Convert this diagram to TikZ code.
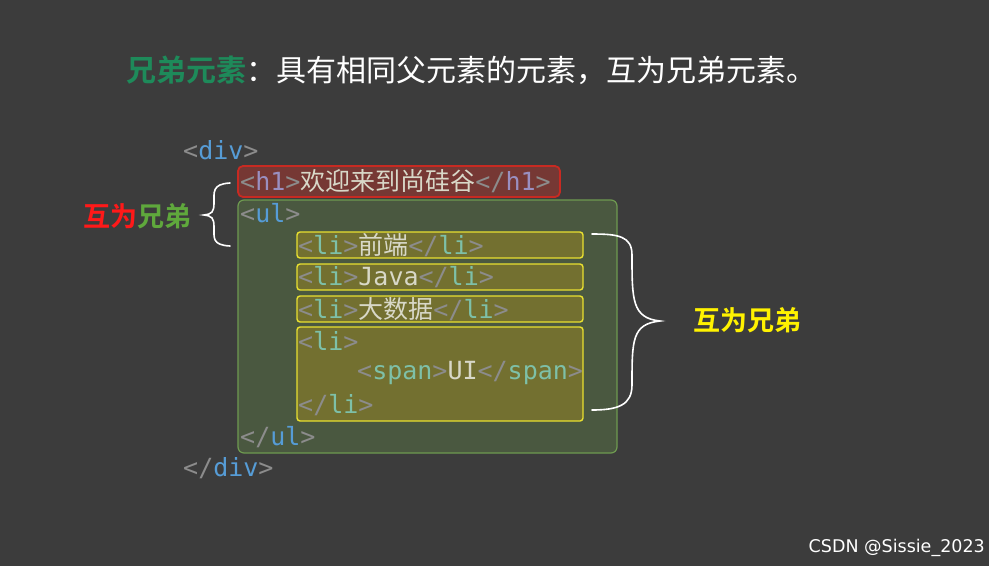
\documentclass[tikz,border=0pt]{standalone}
\usepackage{fontspec}
\setmonofont{DejaVu Sans Mono}
\newfontfamily\cjk{Noto Sans CJK SC}
\newfontfamily\cjkb{Noto Sans CJK SC Bold}
\definecolor{bg}{HTML}{3C3C3C}
\definecolor{brk}{HTML}{8C8C8C}
\definecolor{tagb}{HTML}{569CD6}
\definecolor{tagt}{HTML}{7EC0A8}
\definecolor{tagp}{HTML}{9A8FC0}
\definecolor{txt}{HTML}{D8D8C8}
\definecolor{grn}{HTML}{5FA83C}
\definecolor{ttlg}{HTML}{1E8A5A}
\definecolor{ulfill}{HTML}{4A5840}
\definecolor{ulline}{HTML}{6E9A50}
\definecolor{lifill}{HTML}{737030}
\definecolor{liline}{HTML}{E8E030}
\definecolor{h1fill}{HTML}{763834}
\definecolor{h1line}{HTML}{C82A22}
\begin{document}
\begin{tikzpicture}[x=1pt,y=-1pt,
  code/.style={anchor=west,inner sep=0pt,font=\ttfamily\fontsize{25}{25}\selectfont,text=txt},
  lbl/.style={anchor=west,inner sep=0pt,font=\cjkb\fontsize{27}{27}\selectfont},
  brace/.style={draw=white,line width=1.6pt,line cap=round}]
\fill[bg] (0,0) rectangle (989,566);
\useasboundingbox (0,0) rectangle (989,566);
\newcommand{\B}[1]{\textcolor{brk}{#1}}
% boxes
\draw[draw=ulline,fill=ulfill,line width=1.2pt,rounded corners=6pt] (238,200) rectangle (617,453);
\draw[draw=h1line,fill=h1fill,line width=1.8pt,rounded corners=5pt] (238,166) rectangle (560,197);
\foreach \a/\b in {232/258,264/290,296/322,327/421}
  \draw[draw=liline,fill=lifill,line width=1.4pt,rounded corners=3pt] (297,\a) rectangle (583,\b);
% title
\node[lbl,font=\cjkb\fontsize{30}{30}\selectfont,text=ttlg] (t1) at (126,70) {兄弟元素};
\node[anchor=west,inner sep=0pt,font=\cjk\fontsize{30}{30}\selectfont,text=white] (t2) at (t1.east) {：具有相同父元素的元素，互为兄弟元素。};
% code
\node[code] (l1) at (183,150) {\B{<}\textcolor{tagb}{div}\B{>}};
\node[code] (l2) at (240,181) {\B{<}\textcolor{tagp}{h1}\B{>}{\cjk 欢迎来到尚硅谷}\B{</}\textcolor{tagp}{h1}\B{>}};
\node[code] (l3) at (240,213) {\B{<}\textcolor{tagb}{ul}\B{>}};
\node[code] (l4) at (298,245) {\B{<}\textcolor{tagt}{li}\B{>}{\cjk 前端}\B{</}\textcolor{tagt}{li}\B{>}};
\node[code] (l5) at (298,277) {\B{<}\textcolor{tagt}{li}\B{>}Java\B{</}\textcolor{tagt}{li}\B{>}};
\node[code] (l6) at (298,309) {\B{<}\textcolor{tagt}{li}\B{>}{\cjk 大数据}\B{</}\textcolor{tagt}{li}\B{>}};
\node[code] (l7) at (298,341) {\B{<}\textcolor{tagt}{li}\B{>}};
\node[code] (l8) at (357,373) {\B{<}\textcolor{tagt}{span}\B{>}UI\B{</}\textcolor{tagt}{span}\B{>}};
\node[code] (l9) at (298,405) {\B{</}\textcolor{tagt}{li}\B{>}};
\node[code] (l10) at (240,437) {\B{</}\textcolor{tagb}{ul}\B{>}};
\node[code] (l11) at (183,468) {\B{</}\textcolor{tagb}{div}\B{>}};
% left brace
\coordinate (lb1) at (230,183);
\coordinate (lb2) at (230,246);
\draw[brace] (lb1) .. controls (212,184) and (214,192) .. (214,203)
  .. controls (214,212) and (212,214) .. (204,215)
  .. controls (212,216) and (214,218) .. (214,227)
  .. controls (214,238) and (212,245) .. (lb2);
\node[lbl,text=red!90!white] (lf1) at (83,216) {互为};
\node[lbl,text=grn] (lf2) at (lf1.east) {兄弟};
% right brace
\coordinate (rb1) at (592,234);
\coordinate (rb2) at (592,410);
\draw[brace] (rb1) .. controls (618,234) and (632,236) .. (632,255)
  .. controls (632,300) and (632,318) .. (660,321)
  .. controls (632,324) and (632,340) .. (632,385)
  .. controls (632,405) and (618,410) .. (rb2);
\node[lbl,text=yellow] (rl) at (693,320) {互为兄弟};
% watermark
\node[anchor=east,inner sep=0pt,font=\fontspec{DejaVu Sans}\fontsize{17.5}{17.5}\selectfont,text=white] (wm) at (985,548) {CSDN @Sissie\_2023};
\end{tikzpicture}
\end{document}
